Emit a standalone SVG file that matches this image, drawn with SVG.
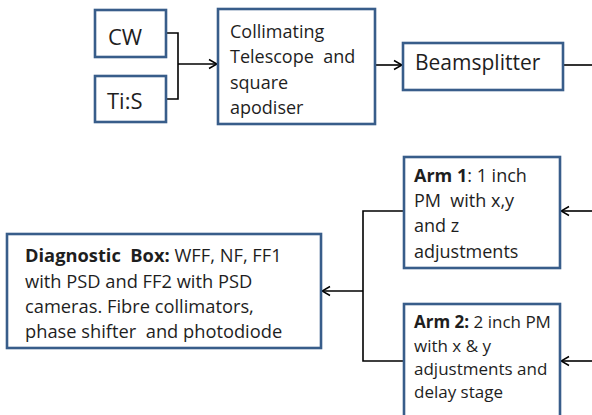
<svg xmlns="http://www.w3.org/2000/svg" width="592" height="415" viewBox="0 0 592 415">
  <style>
    .box { fill: #ffffff; stroke: #385d8a; stroke-width: 2.6; }
    .txt { font-family: "Open Sans", "Liberation Sans", sans-serif; font-size: 18px; fill: #1e1e1e; }
    .lg { font-size: 22px; }
    .xl { font-size: 21px; }
    .sm { font-size: 17px; }
    .md { font-size: 18.3px; }
    .b { font-weight: bold; }
    .wire { fill: none; stroke: #000000; stroke-width: 1.6; }
  </style>
  <defs>
    <marker id="arr" viewBox="0 0 10 12" refX="9.5" refY="6" markerWidth="10" markerHeight="12" markerUnits="userSpaceOnUse" orient="auto">
      <path d="M1.5,1.5 L9.5,6 L1.5,10.5" fill="none" stroke="#000000" stroke-width="1.5"/>
    </marker>
  </defs>
  <rect width="592" height="415" fill="#ffffff"/>

  <g id="connectors">
    <path class="wire" d="M166,33 H178 V99 H166"/>
    <path class="wire" d="M178,64 H217" marker-end="url(#arr)"/>
    <path class="wire" d="M375,65 H402" marker-end="url(#arr)"/>
    <path class="wire" d="M563,65 H592"/>
    <path class="wire" d="M592,211 H561" marker-end="url(#arr)"/>
    <path class="wire" d="M592,361 H561" marker-end="url(#arr)"/>
    <path class="wire" d="M404,211 H363 V361 H404"/>
    <path class="wire" d="M363,291 H322" marker-end="url(#arr)"/>
  </g>

  <g id="cw">
    <rect class="box" x="95" y="10" width="71" height="47"/>
    <text class="txt lg" x="108" y="45">CW</text>
  </g>

  <g id="tis">
    <rect class="box" x="95" y="76" width="71" height="46"/>
    <text class="txt lg" x="107" y="109">Ti:S</text>
  </g>

  <g id="collimator">
    <rect class="box" x="218" y="9" width="157" height="115"/>
    <text class="txt" x="230" y="38">Collimating</text>
    <text class="txt" x="230" y="63" xml:space="preserve">Telescope  and</text>
    <text class="txt" x="230" y="89">square</text>
    <text class="txt" x="230" y="114">apodiser</text>
  </g>

  <g id="beamsplitter">
    <rect class="box" x="403" y="43" width="160" height="47"/>
    <text class="txt xl" x="415" y="70">Beamsplitter</text>
  </g>

  <g id="arm1">
    <rect class="box" x="404" y="157" width="156" height="111"/>
    <text class="txt" x="414" y="182"><tspan class="b">Arm 1</tspan>: 1 inch</text>
    <text class="txt" x="414" y="207" xml:space="preserve">PM  with x,y</text>
    <text class="txt" x="414" y="232">and z</text>
    <text class="txt" x="414" y="258">adjustments</text>
  </g>

  <g id="arm2">
    <rect class="box" x="404" y="304" width="156" height="125"/>
    <text class="txt sm" x="414" y="328"><tspan class="b">Arm 2:</tspan> 2 inch PM</text>
    <text class="txt sm" x="414" y="352">with x &amp; y</text>
    <text class="txt sm" x="414" y="375">adjustments and</text>
    <text class="txt sm" x="414" y="398">delay stage</text>
  </g>

  <g id="diagnostic">
    <rect class="box" x="7" y="234" width="314" height="114"/>
    <text class="txt md" x="25" y="262" xml:space="preserve"><tspan class="b">Diagnostic  Box:</tspan> WFF, NF, FF1</text>
    <text class="txt md" x="25" y="288">with PSD and FF2 with PSD</text>
    <text class="txt md" x="25" y="313">cameras. Fibre collimators,</text>
    <text class="txt md" x="25" y="338" xml:space="preserve">phase shifter  and photodiode</text>
  </g>
</svg>
